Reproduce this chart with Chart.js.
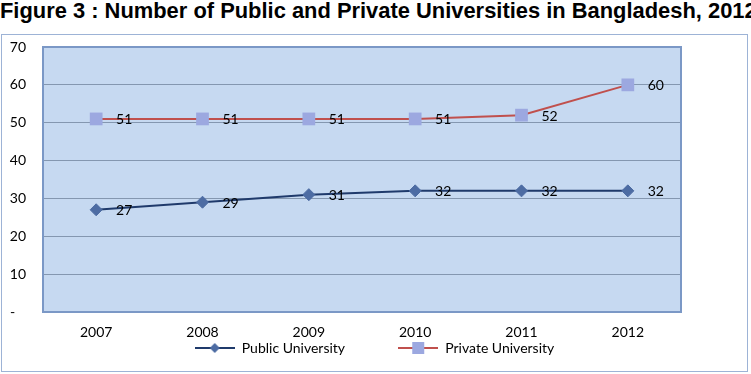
<!DOCTYPE html>
<html>
<head>
<meta charset="utf-8">
<script src="https://cdn.jsdelivr.net/npm/chart.js@4.4.1/dist/chart.umd.min.js"></script>
<style>
html,body{margin:0;padding:0;background:#fff;width:751px;height:374px;overflow:hidden}
#title{position:absolute;left:0;top:-1px;white-space:nowrap;font:bold 21.9px "Liberation Sans",Arial,sans-serif;color:#000;line-height:24px}
#frame{position:absolute;left:1px;top:34px;width:745px;height:336px;border:1px solid #9DB3D6}
</style>
</head>
<body>
<div id="title">Figure 3 : Number of Public and Private Universities in Bangladesh, 2012</div>
<div id="frame"><canvas id="c" width="745" height="336"></canvas></div>
<script>
// ===== data =====
var years=['2007','2008','2009','2010','2011','2012'];
var publicUni=[27,29,31,32,32,32];
var privateUni=[51,51,51,51,52,60];
var yTicks=[0,10,20,30,40,50,60,70];

var FONT='Lato, "Open Sans", sans-serif';
var PUB_LINE='#1F3A6B', PUB_MARK='#4D6CA3';
var PRV_LINE='#C0504D', PRV_MARK='#9CA8E0';

// legend glyph: short line with marker in the middle
function legendGlyph(lineCol,markCol,shape){
 var cv=document.createElement('canvas');cv.width=40;cv.height=14;
 var g=cv.getContext('2d');
 g.strokeStyle=lineCol;g.lineWidth=2;g.beginPath();g.moveTo(0,7);g.lineTo(40,7);g.stroke();
 g.fillStyle=markCol;g.beginPath();
 if(shape==='diamond'){g.moveTo(20,2);g.lineTo(25,7);g.lineTo(20,12);g.lineTo(15,7);g.closePath();}
 else{g.rect(14,1,12,12);}
 g.fill();
 return cv;
}

var plotBg={id:'plotBg',
 beforeDraw:function(ch){var a=ch.chartArea,x=ch.ctx;x.save();x.fillStyle='#C6D9F1';x.fillRect(a.left,a.top,a.right-a.left,a.bottom-a.top);x.restore();},
 afterDatasetsDraw:function(ch){var a=ch.chartArea,x=ch.ctx;x.save();x.strokeStyle='#7B98C6';x.lineWidth=2;x.strokeRect(a.left,a.top,a.right-a.left,a.bottom-a.top);x.restore();}
};

var valueLabels={id:'valueLabels',
 afterDatasetsDraw:function(ch){
  var x=ch.ctx;x.save();x.font='14px '+FONT;x.fillStyle='#000';x.textAlign='center';x.textBaseline='middle';
  ch.data.datasets.forEach(function(ds,i){
   ch.getDatasetMeta(i).data.forEach(function(pt,j){x.fillText(String(ds.data[j]),pt.x+28,pt.y+1);});
  });
  x.restore();
 }
};

new Chart(document.getElementById('c'),{
 type:'line',
 data:{labels:years,datasets:[
  {label:'Public University',data:publicUni,borderColor:PUB_LINE,borderWidth:2,pointStyle:'rectRot',pointRadius:6,pointBackgroundColor:PUB_MARK,pointBorderColor:PUB_MARK,pointBorderWidth:1,tension:0,fill:false},
  {label:'Private University',data:privateUni,borderColor:PRV_LINE,borderWidth:2,pointStyle:'rect',pointRadius:9,pointBackgroundColor:PRV_MARK,pointBorderColor:PRV_MARK,pointBorderWidth:0,tension:0,fill:false}
 ]},
 options:{
  responsive:false,animation:false,
  layout:{padding:{left:0,right:0,top:12,bottom:6}},
  plugins:{
   title:{display:false},tooltip:{enabled:false},
   legend:{position:'bottom',labels:{
    font:{family:FONT,size:14},color:'#000',usePointStyle:true,pointStyleWidth:40,padding:3,
    generateLabels:function(ch){
     return [
      {text:'Public University              ',pointStyle:legendGlyph(PUB_LINE,PUB_MARK,'diamond'),datasetIndex:0,lineWidth:0,strokeStyle:'transparent',fillStyle:'transparent'},
      {text:'Private University',pointStyle:legendGlyph(PRV_LINE,PRV_MARK,'square'),datasetIndex:1,lineWidth:0,strokeStyle:'transparent',fillStyle:'transparent'}
     ];
    }
   }}
  },
  scales:{
   x:{offset:true,grid:{display:false,drawTicks:false},border:{display:false},
      afterFit:function(s){s.height=26;},
      ticks:{font:{family:FONT,size:14},color:'#000',padding:12}},
   y:{min:0,max:70,grid:{color:'#8497B0',lineWidth:1,drawTicks:false},border:{display:false},
      afterBuildTicks:function(s){s.ticks=yTicks.map(function(v){return {value:v};});},
      afterFit:function(s){s.width=41;s.paddingTop=0;s.paddingBottom=0;},
      ticks:{font:{family:FONT,size:14},color:'#000',padding:17,
       callback:function(v){return v===0?'-   ':String(v);}}},
   // empty right-hand gutter so the legend stays centred on the whole box
   yR:{position:'right',min:0,max:70,grid:{display:false,drawTicks:false},border:{display:false},
      ticks:{display:false},afterFit:function(s){s.width=66;}}
  }
 },
 plugins:[plotBg,valueLabels]
});
</script>
</body>
</html>
